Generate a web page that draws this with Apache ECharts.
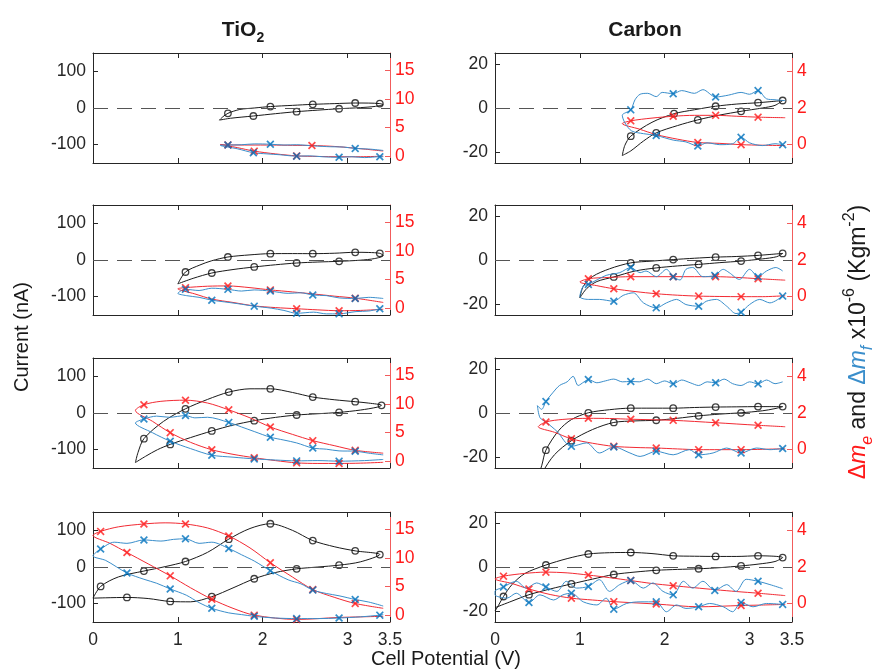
<!DOCTYPE html>
<html>
<head>
<meta charset="utf-8">
<script src="https://cdn.jsdelivr.net/npm/echarts@6/dist/echarts.min.js"></script>
<style>
  html, body { margin: 0; padding: 0; background: #fff; }
  #chart { width: 876px; height: 669px; }
</style>
</head>
<body>
<div id="chart"></div>
<script>
// ticks and axis limits
const xTicks = [0, 1, 2, 3, 3.5];
const xRange = [0, 3.5];
const tio2CurrentTicks = [-100, 0, 100];
const tio2CurrentRange = [-150, 150];
const tio2MassTicks = [0, 5, 10, 15];
const tio2MassRange = [-1.2, 18.1];
const carbonCurrentTicks = [-20, 0, 20];
const carbonCurrentRange = [-25, 25];
const carbonMassTicks = [0, 2, 4];
const carbonMassRange = [-1, 5];

// [potential V, value, marker?]  cv = current (nA), me = dm_e, mf = dm_f (x1e-6 kg m^-2)
const tio2Cv1 = [[1.49,-33],[1.62,-28],[1.89,-21.8,1],[2.15,-15.5],[2.4,-10,1],[2.65,-5.8],[2.9,-2,1],[3.15,1],[3.33,4.5],[3.42,9],[3.38,12,1],[3.25,13.4],[3.09,13.6,1],[2.85,12],[2.59,10,1],[2.35,7.2],[2.09,4,1],[1.9,0],[1.73,-4],[1.59,-14.5,1],[1.53,-24],[1.49,-33]];
const tio2Me1 = [[3.42,0],[3.15,-0.1],[2.9,-0.1],[2.65,-0.05],[2.4,0.05,1],[2.15,0.4],[1.9,0.88,1],[1.7,1.5],[1.5,2.05],[1.59,1.98,1],[1.85,1.95],[2.1,1.95],[2.35,1.9],[2.58,1.87,1],[2.85,1.7],[3.09,1.4],[3.42,0.9]];
const tio2Mf1 = [[3.42,-0.1],[3.38,-0.1,1],[3.2,-0.25],[3.05,-0.1],[2.9,-0.2,1],[2.7,-0.1],[2.55,0.05],[2.4,0,1],[2.2,0.25],[2.05,0.4],[1.89,0.6,1],[1.7,1.3],[1.5,1.9],[1.59,1.95,1],[1.75,2.0],[1.9,2.15],[2.09,2.1,1],[2.25,1.95],[2.4,2.0],[2.6,1.8],[2.8,1.65],[2.95,1.6],[3.09,1.35,1],[3.25,1.25],[3.42,1.0]];

const tio2Cv2 = [[1.0,-65],[1.18,-50],[1.4,-35.5,1],[1.65,-26],[1.9,-19,1],[2.15,-13],[2.4,-8.2,1],[2.65,-5.5],[2.9,-3.6,1],[3.15,-0.5],[3.32,4],[3.42,12],[3.38,18.2,1],[3.25,20.5],[3.09,21,1],[2.85,18.5],[2.59,17.3,1],[2.35,17.5],[2.09,17.3,1],[1.85,14],[1.59,8.2,1],[1.4,-2],[1.26,-13.6],[1.09,-32.7,1],[1.0,-65]];
const tio2Me2 = [[3.42,-0.2],[3.15,-0.4],[2.9,-0.45,1],[2.65,-0.3],[2.4,-0.1,1],[2.15,0.1],[1.9,0.4],[1.65,1.0],[1.4,1.6],[1.2,2.5],[1.0,3.4],[1.09,3.6,1],[1.35,3.85],[1.59,3.9,1],[1.85,3.6],[2.09,3.2,1],[2.35,2.85],[2.59,2.5],[2.85,2.1],[3.09,1.75,1],[3.42,1.0]];
const tio2Mf2 = [[3.38,-0.1,1],[3.25,-0.5],[3.1,-0.6],[2.9,-1.0,1],[2.75,-1.0],[2.6,-0.7],[2.4,-0.9,1],[2.25,-0.4],[2.1,0],[1.9,0.35,1],[1.7,0.8],[1.55,1.1],[1.4,1.4,1],[1.25,1.9],[1.1,2.2],[1.0,2.6],[1.09,3.3,1],[1.25,3.1],[1.4,3.5],[1.59,3.3,1],[1.75,3.0],[1.9,3.2],[2.09,3.0,1],[2.3,2.6],[2.45,2.7],[2.59,2.3,1],[2.75,2.2],[2.9,1.8],[3.09,1.7,1],[3.25,1.9],[3.42,1.7]];

const tio2Cv3 = [[0.5,-135],[0.62,-118],[0.76,-100],[0.91,-85.6,1],[1.15,-67],[1.4,-49,1],[1.65,-33],[1.9,-21,1],[2.15,-12],[2.4,-5.5,1],[2.65,-2],[2.9,1.6,1],[3.15,8],[3.35,16],[3.4,21,1],[3.25,27],[3.09,30.8,1],[2.85,36],[2.59,43.5,1],[2.35,56],[2.09,66,1],[1.85,66],[1.6,57,1],[1.35,37],[1.09,11.5,1],[0.83,-23],[0.6,-70,1],[0.53,-108],[0.5,-135]];
const tio2Me3 = [[3.42,-0.2],[3.15,-0.35],[2.9,-0.4,1],[2.65,-0.4],[2.4,-0.3,1],[2.15,0.1],[1.9,0.6,1],[1.65,1.2],[1.4,2.0,1],[1.15,3.3],[0.91,5.0,1],[0.7,7.0],[0.5,8.9],[0.6,9.9,1],[0.8,10.5],[1.09,10.7,1],[1.35,10.2],[1.6,9.0,1],[1.85,7.6],[2.09,6.0,1],[2.35,4.7],[2.59,3.6,1],[2.85,2.7],[3.09,1.9,1],[3.42,1.4]];
const tio2Mf3 = [[3.42,0.3],[3.2,0.1],[2.9,0,1],[2.65,0.1],[2.4,0.05,1],[2.15,0.2],[1.9,0.4,1],[1.65,0.7],[1.4,1.05,1],[1.15,2.2],[0.91,3.5,1],[0.7,5.0],[0.5,6.7],[0.6,7.4,1],[0.75,7.9],[0.9,7.7],[1.09,8.0,1],[1.2,7.6],[1.35,7.7],[1.6,6.8,1],[1.75,6.0],[1.9,5.2],[2.09,4.2,1],[2.25,3.7],[2.4,3.2],[2.59,2.3,1],[2.75,2.1],[2.9,1.8],[3.09,1.75,1],[3.25,1.4],[3.42,1.1]];

const tio2Cv4 = [[0,-85],[0.15,-84],[0.4,-83,1],[0.65,-86],[0.91,-94,1],[1.15,-95],[1.4,-81,1],[1.65,-57],[1.9,-32,1],[2.15,-15],[2.4,-5,1],[2.65,0],[2.9,5,1],[3.15,14],[3.38,34,1],[3.09,44,1],[2.85,55],[2.59,72,1],[2.35,100],[2.09,118,1],[1.85,105],[1.6,76,1],[1.35,40],[1.09,15,1],[0.85,1],[0.6,-11,1],[0.3,-27],[0.09,-53,1],[0,-85]];
const tio2Me4 = [[3.42,-0.2],[3.15,-0.3],[2.9,-0.4],[2.4,-0.75,1],[1.9,0,1],[1.65,1.2],[1.4,2.8,1],[1.15,4.8],[0.91,6.9,1],[0.65,9.0],[0.4,11.0,1],[0.2,12.6],[0,14.0],[0.09,14.7,1],[0.3,15.5],[0.6,16.0,1],[0.85,16.2],[1.09,16.0,1],[1.35,15.3],[1.6,13.9,1],[1.85,11.8],[2.09,9.2,1],[2.35,6.7],[2.59,4.5,1],[2.85,3.1],[3.09,2.05,1],[3.42,1.2]];
const tio2Mf4 = [[3.42,0.1],[3.38,0,1],[3.15,-0.3],[2.9,-0.5,1],[2.65,-0.6],[2.4,-0.6,1],[2.15,-0.5],[1.9,-0.2,1],[1.75,0.1],[1.6,0.4],[1.4,1.2,1],[1.25,2.2],[1.1,3.5],[0.91,4.6,1],[0.75,5.6],[0.6,6.3],[0.4,7.4,1],[0.15,9.6],[0,10.4],[0.09,11.6,1],[0.25,12.8],[0.4,12.6],[0.6,13.2,1],[0.8,13.0],[0.95,13.3],[1.09,13.4,1],[1.25,12.6],[1.4,12.8],[1.6,11.7,1],[1.75,10.6],[1.9,9.5],[2.09,7.8,1],[2.3,6.2],[2.45,5.5],[2.59,4.4,1],[2.75,3.8],[2.9,3.4],[3.09,2.75,1],[3.25,2.3],[3.42,1.6]];

const carbonCv1 = [[1.5,-21.6],[1.6,-19.5],[1.75,-15],[1.9,-11.3,1],[2.15,-8],[2.39,-5.4,1],[2.65,-3.2],[2.9,-1.5,1],[3.15,0],[3.3,1.2],[3.39,3.4,1],[3.1,2.4,1],[2.85,1.8],[2.6,0.8,1],[2.35,-0.8],[2.11,-2.6,1],[1.85,-6.5],[1.6,-12.8,1],[1.53,-17],[1.5,-21.6]];
const carbonMe1 = [[3.42,-0.05],[3.15,-0.03],[2.9,0.0,1],[2.65,0.07],[2.39,0.12,1],[2.15,0.3],[1.9,0.55],[1.7,0.85],[1.5,1.15],[1.6,1.3,1],[1.85,1.45],[2.1,1.55,1],[2.35,1.6],[2.6,1.6,1],[2.85,1.55],[3.1,1.5,1],[3.42,1.47]];
const carbonMf1 = [[3.39,0,1],[3.3,0.05],[3.15,-0.05],[3.0,0.1],[2.9,0.4,1],[2.8,0.05],[2.65,0.0],[2.5,0.1],[2.39,-0.07,1],[2.25,0.15],[2.1,0.25],[1.9,0.5,1],[1.75,0.6],[1.61,0.75],[1.53,1.2],[1.5,1.6],[1.6,1.9,1],[1.65,2.45],[1.71,2.75],[1.8,2.8],[1.9,2.62],[1.97,2.85],[2.1,2.78,1],[2.2,2.95],[2.35,2.8],[2.45,3.0],[2.6,2.6,1],[2.75,2.7],[2.9,2.85],[3.0,2.75],[3.1,2.95,1],[3.2,2.5],[3.3,2.45],[3.42,2.4]];

const carbonCv2 = [[1.0,-17.2],[1.08,-13],[1.2,-9.8],[1.4,-7.7,1],[1.65,-5],[1.9,-3.6,1],[2.15,-2.7],[2.4,-2.0,1],[2.65,-1.2],[2.9,-0.5,1],[3.15,0.5],[3.32,1.5],[3.39,3.0,1],[3.1,2.1,1],[2.85,1.6],[2.6,1.3,1],[2.35,0.8],[2.1,0.2,1],[1.85,-0.5],[1.6,-1.3,1],[1.35,-4],[1.15,-7.5],[1.04,-12],[1.0,-17.2]];
const carbonMe2 = [[3.42,0.05],[3.15,0.0],[2.9,0,1],[2.65,0.01],[2.4,0.03,1],[2.15,0.08],[1.9,0.16,1],[1.65,0.28],[1.4,0.43,1],[1.2,0.6],[1.0,0.8],[1.1,0.98,1],[1.35,1.05],[1.6,1.09,1],[2.1,1.09,1],[2.6,1.09,1],[2.85,1.05],[3.1,0.98,1],[3.42,0.9]];
const carbonMf2 = [[3.39,0.03,1],[3.24,-0.34],[3.12,-0.15],[3.0,-0.43],[2.9,-0.85,1],[2.84,-0.92],[2.73,-0.52],[2.61,-0.15],[2.49,-0.25],[2.4,-0.52,1],[2.25,-0.43],[2.14,-0.15],[2.02,-0.34],[1.9,-0.61,1],[1.75,-0.34],[1.63,0.21],[1.51,0.07],[1.4,-0.25,1],[1.23,-0.15],[1.1,-0.15],[1.0,0.0],[1.04,0.58],[1.1,0.67,1],[1.31,1.16],[1.47,1.31],[1.6,1.59,1],[1.71,1.31],[1.78,1.4],[1.9,1.09],[2.02,1.49],[2.1,1.09,1],[2.18,0.91],[2.25,1.49],[2.33,1.59],[2.45,1.09],[2.59,1.16,1],[2.69,1.49],[2.76,1.31],[2.88,0.94],[3.0,1.49],[3.1,1.09,1],[3.2,1.4],[3.31,1.59],[3.39,1.4]];

const carbonCv3 = [[0.47,-33],[0.55,-24],[0.6,-16.9,1],[0.75,-8],[0.9,-3],[1.1,0.1,1],[1.35,1.5],[1.6,2.2,1],[1.85,2.2],[2.1,2.2,1],[2.35,2.5],[2.6,2.7,1],[2.85,2.8],[3.1,2.9,1],[3.39,2.9,1],[3.3,2.0],[3.15,1.0],[2.9,0.1,1],[2.65,-0.5],[2.4,-1.3,1],[2.15,-2.4],[1.9,-3.3,1],[1.65,-3.6],[1.4,-4.3,1],[1.15,-7.5],[0.9,-12.6,1],[0.7,-19],[0.56,-27],[0.5,-33]];
const carbonMe3 = [[3.42,0.05],[3.15,0.02],[2.9,0,1],[2.65,0],[2.4,0,1],[2.15,0.04],[1.9,0.09,1],[1.65,0.12],[1.4,0.18,1],[1.15,0.35],[0.9,0.59,1],[0.7,0.95],[0.51,1.25],[0.6,1.51,1],[0.8,1.65],[1.1,1.71,1],[1.35,1.7],[1.6,1.66,1],[2.1,1.6,1],[2.6,1.47,1],[3.1,1.33,1],[3.42,1.25]];
const carbonMf3 = [[3.39,0.06,1],[3.24,0],[3.08,0.09],[2.9,-0.18,1],[2.73,0.09],[2.57,-0.18],[2.4,-0.28,1],[2.29,0],[2.1,-0.28],[1.9,-0.09,1],[1.71,-0.37],[1.59,-0.18],[1.4,0.15,1],[1.23,-0.18],[1.08,0.37],[0.9,0.18,1],[0.73,1.0],[0.61,1.47],[0.53,1.75],[0.5,2.4],[0.55,2.2],[0.6,2.63,1],[0.68,3.1],[0.76,3.5],[0.85,3.7],[0.92,4.0],[0.98,3.5],[1.05,3.7],[1.1,3.83,1],[1.2,3.65],[1.3,3.75],[1.4,3.85],[1.5,3.7],[1.6,3.72,1],[1.7,3.7],[1.8,3.85],[1.9,3.6],[2.0,3.75],[2.1,3.59,1],[2.2,3.8],[2.3,3.65],[2.4,3.5],[2.5,3.7],[2.6,3.65,1],[2.7,3.85],[2.8,3.6],[2.9,3.5],[3.0,3.7],[3.1,3.59,1],[3.2,3.8],[3.3,3.6],[3.39,3.7]];

const carbonCv4 = [[0,-20],[0.04,-17.5],[0.1,-13.4,1],[0.2,-8],[0.35,-3],[0.6,0.9,1],[0.85,3.8],[1.1,5.9,1],[1.35,6.5],[1.6,6.6,1],[1.85,6.1],[2.1,5.1,1],[2.35,4.9],[2.6,4.8,1],[2.85,4.8],[3.1,5.1,1],[3.39,4.3,1],[3.3,2.5],[3.1,1.3],[2.9,0.5,1],[2.65,-0.3],[2.4,-0.8,1],[2.15,-1.1],[1.9,-1.5,1],[1.65,-2.3],[1.4,-3.4,1],[1.15,-5.5],[0.9,-7.7,1],[0.65,-10],[0.4,-12.6,1],[0.2,-15.5],[0,-18.5]];
const carbonMe4 = [[3.42,-0.04],[3.1,-0.08],[2.9,-0.1,1],[2.4,-0.17],[1.9,-0.02,1],[1.4,0.11,1],[1.15,0.2],[0.9,0.3,1],[0.65,0.5],[0.4,0.8,1],[0.2,1.1],[0,1.35],[0.1,1.5,1],[0.35,1.65],[0.6,1.72,1],[0.85,1.68],[1.1,1.56,1],[1.35,1.42],[1.6,1.26,1],[1.85,1.1],[2.1,0.98,1],[2.35,0.87],[2.6,0.76],[2.85,0.66],[3.1,0.57,1],[3.42,0.44]];
const carbonMf4 = [[3.39,-0.04,1],[3.2,0.01],[3.04,-0.17],[2.9,0.07,1],[2.8,-0.44],[2.69,-0.17],[2.53,0.01],[2.4,-0.17,1],[2.25,-0.26],[2.14,-0.07],[2.02,-0.44],[1.9,0.1,1],[1.71,0.1],[1.55,0.01],[1.4,-0.3,1],[1.31,0.3],[1.2,-0.07],[1.04,0.1],[0.9,0.57,1],[0.8,0.48],[0.69,0.2],[0.53,0.48],[0.4,0.06,1],[0.25,0.57],[0.14,0.3],[0,0.48],[0,0.67],[0.1,0.91,1],[0.25,1.22],[0.37,0.85],[0.49,1.13],[0.6,0.91,1],[0.73,0.67],[0.84,1.22],[0.96,0.85],[1.1,0.94,1],[1.23,1.31],[1.35,0.67],[1.47,1.04],[1.6,1.26,1],[1.75,0.85],[1.86,1.13],[1.98,0.67],[2.1,0.48,1],[2.22,1.22],[2.33,0.85],[2.45,1.22],[2.59,0.72,1],[2.73,1.04],[2.84,0.67],[2.96,1.33],[3.1,1.22,1],[3.24,1.04],[3.39,0.82]];

// row-major: [left TiO2, right Carbon] per row
const panels = [
  [tio2Cv1, tio2Me1, tio2Mf1, 'tio2'], [carbonCv1, carbonMe1, carbonMf1, 'carbon'],
  [tio2Cv2, tio2Me2, tio2Mf2, 'tio2'], [carbonCv2, carbonMe2, carbonMf2, 'carbon'],
  [tio2Cv3, tio2Me3, tio2Mf3, 'tio2'], [carbonCv3, carbonMe3, carbonMf3, 'carbon'],
  [tio2Cv4, tio2Me4, tio2Mf4, 'tio2'], [carbonCv4, carbonMe4, carbonMf4, 'carbon']
];

const FONT = '"Liberation Sans", Arial, Helvetica, sans-serif';
const AX = '#262626';
const RED = '#ff1a1a';
const RED_LINE = '#f22a33';
const BLUE_LINE = '#3a8ecb';
const BLUE = '#0072bd';
const X_PATH = 'path://M0,1.5L1.5,0L5,3.5L8.5,0L10,1.5L6.5,5L10,8.5L8.5,10L5,6.5L1.5,10L0,8.5L3.5,5Z';

const colLefts = [93, 495];
const rowTops = [53, 205, 358, 512];
const W = 297, H = 110;

const grid = [], xAxis = [], yAxis = [], series = [];

function line(g, yi, pts, color, z, extra) {
  return Object.assign({
    type: 'line', xAxisIndex: 2 * g, yAxisIndex: 2 * g + yi,
    data: pts.map(p => [p[0], p[1]]),
    symbol: 'none', showSymbol: false, smooth: 0.3, clip: true,
    lineStyle: { color: color, width: 1 }, z: z, silent: true
  }, extra || {});
}
function marks(g, yi, pts, symbol, size, itemStyle, z) {
  return {
    type: 'scatter', xAxisIndex: 2 * g, yAxisIndex: 2 * g + yi,
    data: pts.filter(p => p[2]).map(p => [p[0], p[1]]),
    symbol: symbol, symbolSize: size, itemStyle: itemStyle, z: z, clip: true, silent: true
  };
}

panels.forEach((p, g) => {
  const r = Math.floor(g / 2), c = g % 2;
  const [cv, me, mf, kind] = p;
  const isT = kind === 'tio2';
  grid.push({ left: colLefts[c], top: rowTops[r], width: W, height: H, show: false });

  const xBase = {
    type: 'value', gridIndex: g, min: xRange[0], max: xRange[1],
    splitLine: { show: false },
    axisLine: { show: true, onZero: false, lineStyle: { color: AX, width: 1 } },
    axisTick: { show: true, inside: true, length: 5, customValues: xTicks, lineStyle: { color: AX } }
  };
  xAxis.push(Object.assign({}, xBase, {
    position: 'bottom',
    axisLabel: { show: r === 3, customValues: xTicks, fontSize: 17.5, color: AX, fontFamily: FONT, margin: 9 }
  }));
  xAxis.push(Object.assign({}, xBase, { position: 'top', axisLabel: { show: false } }));

  const cRange = isT ? tio2CurrentRange : carbonCurrentRange;
  const cTicks = isT ? tio2CurrentTicks : carbonCurrentTicks;
  const mRange = isT ? tio2MassRange : carbonMassRange;
  const mTicks = isT ? tio2MassTicks : carbonMassTicks;
  yAxis.push({
    type: 'value', gridIndex: g, position: 'left', min: cRange[0], max: cRange[1],
    splitLine: { show: false },
    axisLine: { show: true, onZero: false, lineStyle: { color: AX, width: 1 } },
    axisTick: { show: true, inside: true, length: 5, customValues: cTicks, lineStyle: { color: AX } },
    axisLabel: { customValues: cTicks, fontSize: 17.5, color: AX, fontFamily: FONT, margin: 7 }
  });
  yAxis.push({
    type: 'value', gridIndex: g, position: 'right', min: mRange[0], max: mRange[1],
    splitLine: { show: false },
    axisLine: { show: true, onZero: false, lineStyle: { color: '#f25c5c', width: 1 } },
    axisTick: { show: true, inside: true, length: 5, customValues: mTicks, lineStyle: { color: '#f25c5c' } },
    axisLabel: { customValues: mTicks, fontSize: 17.5, color: RED, fontFamily: FONT, margin: 5 }
  });

  series.push(line(g, 0, cv, '#1a1a1a', 3, {
    markLine: {
      silent: true, symbol: ['none', 'none'], label: { show: false }, animation: false,
      lineStyle: { type: [15, 9], color: '#555', width: 1 },
      data: [{ yAxis: 0 }]
    }
  }));
  series.push(marks(g, 0, cv, 'circle', 6.5, { color: 'rgba(255,255,255,0)', borderColor: '#111', borderWidth: 1.3 }, 4));
  series.push(line(g, 1, me, RED_LINE, 5));
  series.push(line(g, 1, mf, BLUE_LINE, 5));
  series.push(marks(g, 1, me, X_PATH, 8, { color: RED }, 6));
  series.push(marks(g, 1, mf, X_PATH, 8, { color: BLUE }, 7));
});

const base = { fontFamily: FONT, fontSize: 20, fill: '#1a1a1a', lineHeight: 30 };
const sub = { fontFamily: FONT, fontSize: 14, lineHeight: 14, verticalAlign: 'bottom' };
const sup = { fontFamily: FONT, fontSize: 14, lineHeight: 14, verticalAlign: 'top' };
const bigBase = Object.assign({}, base, { fontSize: 23, lineHeight: 34 });
const bigSub = Object.assign({}, sub, { fontSize: 16, lineHeight: 16 });
const bigSup = Object.assign({}, sup, { fontSize: 16, lineHeight: 16 });

const graphic = [
  {
    type: 'text', x: 243, y: 30, z: 10,
    style: {
      text: '{a|TiO}{b|2}', align: 'center', verticalAlign: 'middle',
      rich: {
        a: Object.assign({}, base, { fontWeight: 'bold', fontSize: 21 }),
        b: Object.assign({}, sub, { fontWeight: 'bold', fill: '#1a1a1a' })
      }
    }
  },
  {
    type: 'text', x: 645, y: 30, z: 10,
    style: {
      text: 'Carbon', align: 'center', verticalAlign: 'middle',
      fontFamily: FONT, fontSize: 21, fontWeight: 'bold', fill: '#1a1a1a'
    }
  },
  {
    type: 'text', x: 22, y: 337, rotation: Math.PI / 2, z: 10,
    style: {
      text: 'Current (nA)', align: 'center', verticalAlign: 'middle',
      fontFamily: FONT, fontSize: 20, fill: '#1a1a1a'
    }
  },
  {
    type: 'text', x: 446, y: 659, z: 10,
    style: {
      text: 'Cell Potential (V)', align: 'center', verticalAlign: 'middle',
      fontFamily: FONT, fontSize: 20, fill: '#1a1a1a'
    }
  },
  {
    type: 'text', x: 859, y: 342, rotation: Math.PI / 2, z: 10,
    style: {
      text: '{r|\u0394}{ri|m}{rs|e}{k| and }{b|\u0394}{bi|m}{bs|f}{k| x10}{ks|-6}{k| (Kgm}{ks|-2}{k|)}',
      align: 'center', verticalAlign: 'middle',
      rich: {
        r: Object.assign({}, bigBase, { fill: RED }),
        ri: Object.assign({}, bigBase, { fill: RED, fontStyle: 'italic' }),
        rs: Object.assign({}, bigSub, { fill: RED, fontStyle: 'italic' }),
        b: Object.assign({}, bigBase, { fill: BLUE_LINE }),
        bi: Object.assign({}, bigBase, { fill: BLUE_LINE, fontStyle: 'italic' }),
        bs: Object.assign({}, bigSub, { fill: BLUE_LINE, fontStyle: 'italic' }),
        k: Object.assign({}, bigBase),
        ks: Object.assign({}, bigSup, { fill: '#1a1a1a' })
      }
    }
  }
];

const chart = echarts.init(document.getElementById('chart'));
chart.setOption({
  animation: false,
  backgroundColor: '#fff',
  grid: grid,
  xAxis: xAxis,
  yAxis: yAxis,
  series: series,
  graphic: graphic
});
</script>
</body>
</html>
